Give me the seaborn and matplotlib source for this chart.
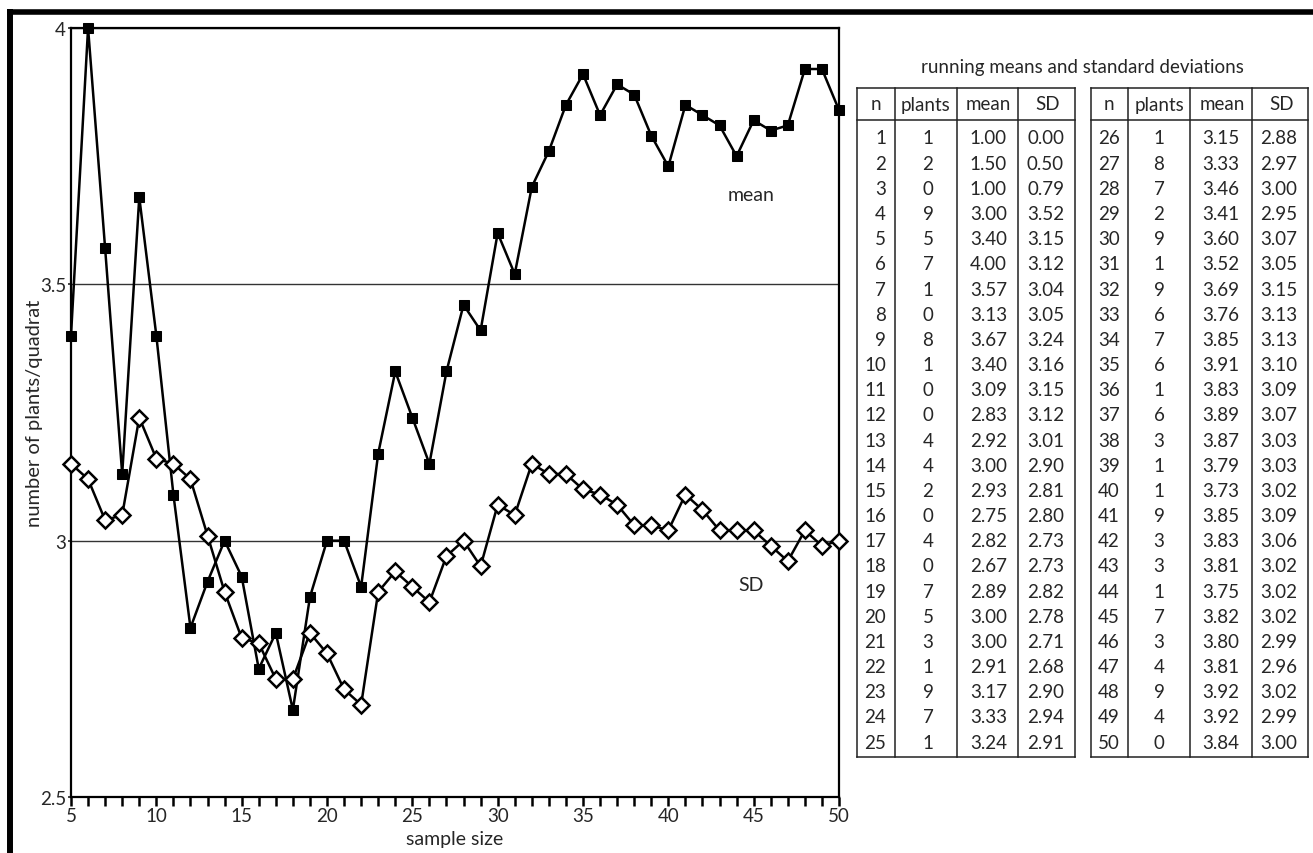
import numpy as np
import pandas as pd
import matplotlib
matplotlib.use('Agg')
import matplotlib.pyplot as plt
import seaborn as sns
from matplotlib.lines import Line2D
from matplotlib.ticker import MultipleLocator

sns.set_style('ticks')
plt.rcParams['font.family'] = ['Lato', 'DejaVu Sans']

# running means / SDs of plants per quadrat
n_vals = list(range(1, 51))
plants = [1, 2, 0, 9, 5, 7, 1, 0, 8, 1, 0, 0, 4, 4, 2, 0, 4, 0, 7, 5, 3, 1, 9, 7, 1,
          1, 8, 7, 2, 9, 1, 9, 6, 7, 6, 1, 6, 3, 1, 1, 9, 3, 3, 1, 7, 3, 4, 9, 4, 0]
means = [1.00, 1.50, 1.00, 3.00, 3.40, 4.00, 3.57, 3.13, 3.67, 3.40, 3.09, 2.83, 2.92,
         3.00, 2.93, 2.75, 2.82, 2.67, 2.89, 3.00, 3.00, 2.91, 3.17, 3.33, 3.24,
         3.15, 3.33, 3.46, 3.41, 3.60, 3.52, 3.69, 3.76, 3.85, 3.91, 3.83, 3.89, 3.87,
         3.79, 3.73, 3.85, 3.83, 3.81, 3.75, 3.82, 3.80, 3.81, 3.92, 3.92, 3.84]
sds = [0.00, 0.50, 0.79, 3.52, 3.15, 3.12, 3.04, 3.05, 3.24, 3.16, 3.15, 3.12, 3.01,
       2.90, 2.81, 2.80, 2.73, 2.73, 2.82, 2.78, 2.71, 2.68, 2.90, 2.94, 2.91,
       2.88, 2.97, 3.00, 2.95, 3.07, 3.05, 3.15, 3.13, 3.13, 3.10, 3.09, 3.07, 3.03,
       3.03, 3.02, 3.09, 3.06, 3.02, 3.02, 3.02, 2.99, 2.96, 3.02, 2.99, 3.00]
x_ticks = [5, 10, 15, 20, 25, 30, 35, 40, 45, 50]
y_ticks = [2.5, 3, 3.5, 4]
y_ticklabels = ['2.5', '3', '3.5', '4']
headers = ['n', 'plants', 'mean', 'SD']

df = pd.DataFrame({'n': n_vals, 'plants': plants, 'mean': means, 'SD': sds})
plot_df = df[df['n'] >= 5]

W, H = 1313, 854
fig = plt.figure(figsize=(W / 100, H / 100), dpi=100)
fig.patch.set_facecolor('white')

ax = fig.add_axes([71 / W, 1 - 798 / H, (839 - 71) / W, (798 - 29) / H])

sns.lineplot(data=plot_df, x='n', y='mean', ax=ax, color='black', lw=1.8,
             marker='s', markersize=7.5, markerfacecolor='black',
             markeredgecolor='black', clip_on=False, zorder=3)
sns.lineplot(data=plot_df, x='n', y='SD', ax=ax, color='black', lw=1.8,
             marker='D', markersize=8.5, markerfacecolor='white',
             markeredgecolor='black', markeredgewidth=1.8, clip_on=False, zorder=4)

ax.set_xlim(5, 50)
ax.set_ylim(2.5, 4)
ax.set_xticks(x_ticks)
ax.set_xticklabels([str(v) for v in x_ticks])
ax.xaxis.set_minor_locator(MultipleLocator(1))
ax.set_yticks(y_ticks)
ax.set_yticklabels(y_ticklabels)
ax.tick_params(axis='x', which='both', direction='out', length=6.5, width=1.8,
               labelsize=13.5, pad=1, color='black')
ax.tick_params(axis='y', direction='out', length=2.5, width=1.2, labelsize=13.5, pad=1)
ax.yaxis.grid(True, color='#333333', lw=1.0)
for s in ax.spines.values():
    s.set_visible(True)
    s.set_linewidth(1.6)
    s.set_color('black')
ax.set_xlabel('sample size', fontsize=14)
ax.set_ylabel('number of plants/quadrat', fontsize=14.5)
ax.xaxis.set_label_coords(0.5, -0.043)
ax.yaxis.set_label_coords(-0.036, 0.5)

ax.text(0.885, 0.783, 'mean', transform=ax.transAxes, ha='center', va='center', fontsize=14)
ax.text(0.886, 0.276, 'SD', transform=ax.transAxes, ha='center', va='center', fontsize=14)

# thick frame at top and left
fig.add_artist(Line2D([7 / W, 1], [1 - 12.5 / H, 1 - 12.5 / H], color='black', lw=4,
                      transform=fig.transFigure, solid_capstyle='butt'))
fig.add_artist(Line2D([10 / W, 10 / W], [0, 1 - 10 / H], color='black', lw=4.3,
                      transform=fig.transFigure, solid_capstyle='butt'))

# table in pixel coordinates
tax = fig.add_axes([0, 0, 1, 1], facecolor='none')
tax.set_xlim(0, W)
tax.set_ylim(H, 0)
tax.axis('off')

tax.text(1082, 68, 'running means and standard deviations', ha='center', va='center',
         fontsize=13.5)

top, head_bot, bot = 89, 121, 758
row0, row_step = 139, 25.17
tables = [
    {'edges': [857, 895, 957, 1018, 1075], 'rows': df.iloc[:25],
     'hx': [876, 926, 988, 1048], 'cx': [886, 928, 1007, 1064]},
    {'edges': [1091, 1128, 1190, 1252, 1308], 'rows': df.iloc[25:],
     'hx': [1109, 1159, 1222, 1282], 'cx': [1120, 1159, 1239, 1297]},
]
aligns = ['right', 'center', 'right', 'right']
for t in tables:
    e = t['edges']
    for xe in e:
        tax.plot([xe, xe], [top, bot], color='#222222', lw=1.1, solid_capstyle='projecting')
    for ye in (top, head_bot, bot):
        tax.plot([e[0], e[-1]], [ye, ye], color='#222222', lw=1.1, solid_capstyle='projecting')
    for hx, h in zip(t['hx'], headers):
        tax.text(hx, 105, h, ha='center', va='center', fontsize=13.5)
    for i, (_, r) in enumerate(t['rows'].iterrows()):
        y = row0 + i * row_step
        vals = [f"{int(r['n'])}", f"{int(r['plants'])}", f"{r['mean']:.2f}", f"{r['SD']:.2f}"]
        for cx, v, a in zip(t['cx'], vals, aligns):
            tax.text(cx, y, v, ha=a, va='center', fontsize=13.5)

fig.savefig('out.png', dpi=100, facecolor='white')
